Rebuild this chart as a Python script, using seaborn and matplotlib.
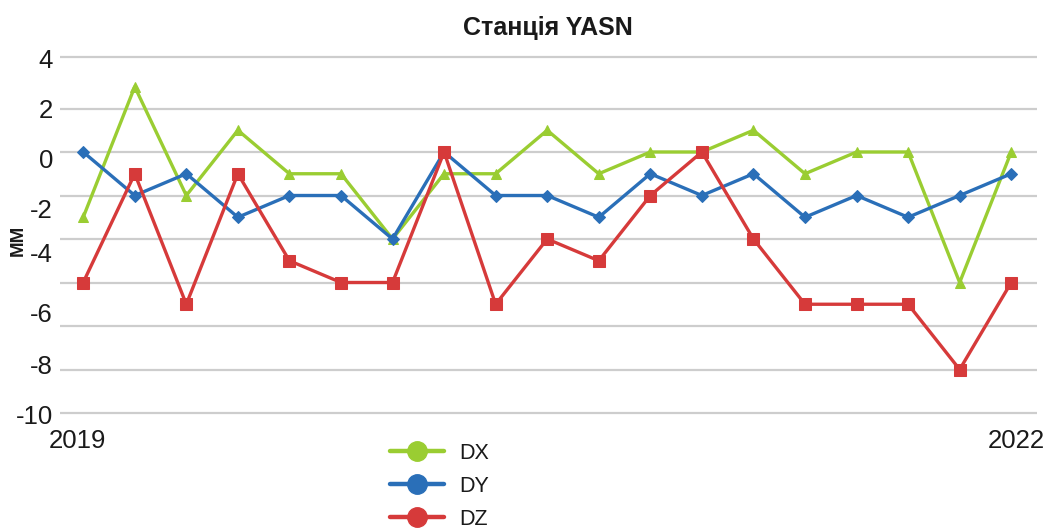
import numpy as np
import pandas as pd
import matplotlib
matplotlib.use("Agg")
import matplotlib.pyplot as plt
import seaborn as sns
from matplotlib.lines import Line2D

# ---- data (in axis units) ----
idx = list(range(19))
dx = [-3, 3, -2, 1, -1, -1, -4, -1, -1, 1, -1, 0, 0, 1, -1, 0, 0, -6, 0]
dy = [0, -2, -1, -3, -2, -2, -4, 0, -2, -2, -3, -1, -2, -1, -3, -2, -3, -2, -1]
dz = [-6, -1, -7, -1, -5, -6, -6, 0, -7, -4, -5, -2, 0, -4, -7, -7, -7, -10, -6]
series_names = ["DX", "DY", "DZ"]
ytick_labels = ["4", "2", "0", "-2", "-4", "-6", "-8", "-10"]
xtick_labels = ["2019", "2022"]
title = "Станція YASN"
ylabel = "ММ"

colors = {"DX": "#9acd32", "DY": "#2a6fb8", "DZ": "#d63a3a"}
markers = {"DX": "^", "DY": "D", "DZ": "s"}
msizes = {"DX": 7, "DY": 6, "DZ": 8}
txt = "#1a1a1a"

sns.set_theme(style="white")
plt.rcParams["font.family"] = ["Liberation Sans", "DejaVu Sans"]
plt.rcParams["text.color"] = txt
plt.rcParams["xtick.color"] = txt
plt.rcParams["ytick.color"] = txt

fig = plt.figure(figsize=(10.51, 5.31), dpi=100)
ax = fig.add_axes([60 / 1051, 1 - 415 / 531, (1037 - 60) / 1051, (415 - 50) / 531])

df = pd.DataFrame({"idx": idx, "DX": dx, "DY": dy, "DZ": dz})

# gridlines (minor ticks)
grid_vals = [(152 - 57) / 21.75, 2, 0, -2, -4, -6, -8, -10, -12]
ax.set_yticks(grid_vals, minor=True)
ax.yaxis.grid(True, which="minor", color="#cdcdcd", linewidth=1.6)
ax.set_axisbelow(True)

for name in series_names:
    sns.lineplot(data=df, x="idx", y=name, ax=ax, color=colors[name],
                 marker=markers[name], markersize=msizes[name],
                 markeredgecolor=colors[name], linewidth=2.4, legend=False)

ax.set_xlim(-0.45, 18.5)
ax.set_ylim((152 - 415) / 21.75, (152 - 50) / 21.75)

label_pos = [(152 - y) / 21.75 for y in [58, 108, 158, 208, 253, 313, 365, 414]]
ax.set_yticks(label_pos)
ax.set_yticklabels(ytick_labels, fontsize=18.5)
ax.tick_params(axis="y", which="both", length=0, pad=5)

ax.set_xticks([-0.12, 18.1])
ax.set_xticklabels(xtick_labels, fontsize=18.5)
ax.tick_params(axis="x", length=0, pad=10)
ax.set_xlabel("")
ax.set_ylabel("")

for s in ax.spines.values():
    s.set_visible(False)

fig.text(548 / 1051, 1 - 28 / 531, title, ha="center", va="center",
         fontsize=18, fontweight="bold")
fig.text(18 / 1051, 1 - 240 / 531, ylabel, ha="center", va="center",
         rotation=90, fontsize=13.5, fontweight="bold")

handles = [Line2D([0], [0], color=colors[n], marker="o", markersize=14,
                  linewidth=3.2) for n in series_names]
fig.legend(handles, series_names, loc="upper left",
           bbox_to_anchor=(390 / 1051, 1 - 443 / 531), frameon=False,
           fontsize=15.5, handlelength=2.5, labelspacing=0.55, handletextpad=0.7,
           borderaxespad=0, borderpad=0)

fig.savefig("out.png", dpi=100)
